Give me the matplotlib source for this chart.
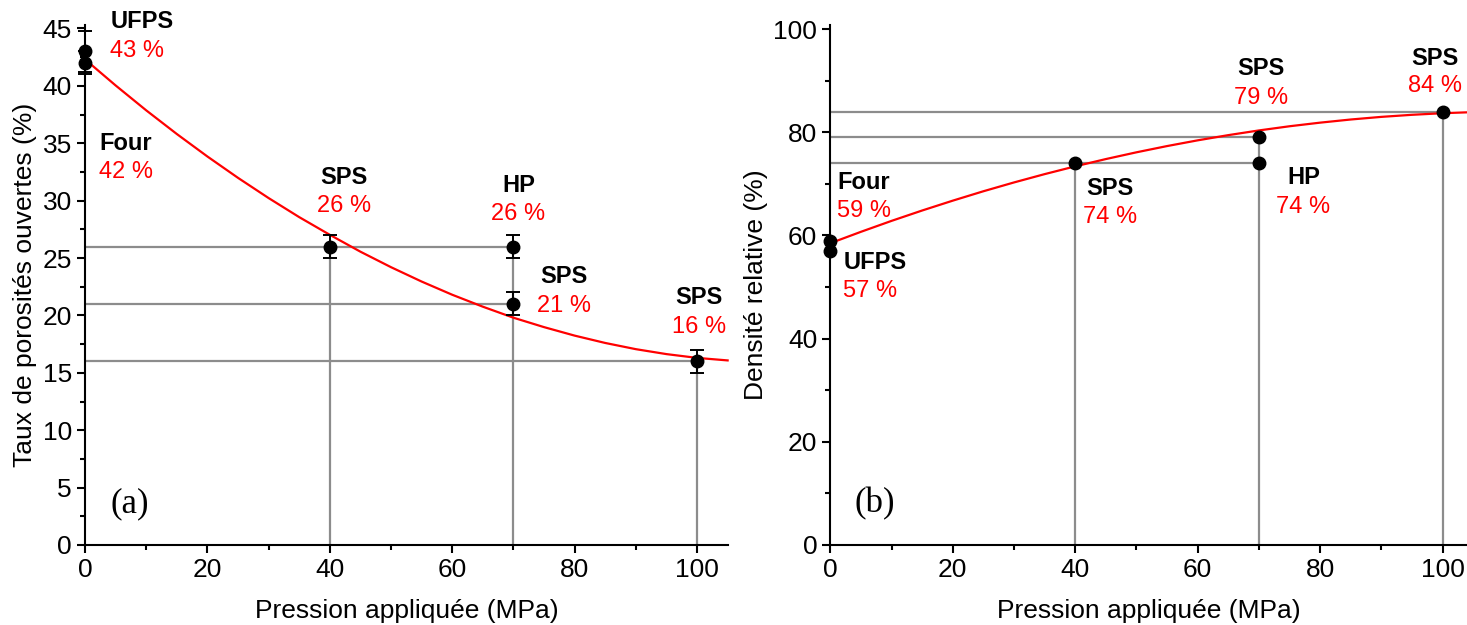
import matplotlib
matplotlib.use('Agg')
import matplotlib.pyplot as plt
from matplotlib.ticker import MultipleLocator

plt.rcParams['font.family'] = ['Liberation Sans', 'DejaVu Sans']

# (a) open porosity
pressA = [0, 0, 40, 70, 70, 100]
poroA = [43, 42, 26, 26, 21, 16]
errA = [1.8, 1.0, 1.0, 1.0, 1.0, 1.0]
# fitted curve
fitAx = [0, 5, 10, 15, 20, 25, 30, 35, 40, 45, 50, 55, 60, 65, 70, 75, 80, 85, 90, 95, 100, 105]
fitAy = [42.30, 40.03, 37.86, 35.80, 33.84, 31.98, 30.22, 28.56, 27.02, 25.55, 24.20, 22.95,
         21.80, 20.76, 19.80, 18.98, 18.24, 17.60, 17.06, 16.63, 16.30, 16.08]
# guide lines: (x, y) of the point they lead to
guideA_h = [(70, 26), (70, 21), (100, 16)]
guideA_v = [(40, 26), (70, 26), (100, 16)]
# labels: (x, y_name, y_value, name, value, ha)
labelsA = [
    (4.1, 45.6, 43.0, 'UFPS', '43 %', 'left'),
    (2.3, 35.0, 32.5, 'Four', '42 %', 'left'),
    (42.3, 32.0, 29.5, 'SPS', '26 %', 'center'),
    (70.8, 31.3, 28.8, 'HP', '26 %', 'center'),
    (78.3, 23.4, 20.8, 'SPS', '21 %', 'center'),
    (100.3, 21.6, 19.0, 'SPS', '16 %', 'center'),
]

# (b) relative density
pressB = [0, 0, 40, 70, 70, 100]
densB = [59, 57, 74, 79, 74, 84]
fitBx = [0, 5, 10, 15, 20, 25, 30, 35, 40, 45, 50, 55, 60, 65, 70, 75, 80, 85, 90, 95, 100, 104]
fitBy = [58.50, 60.71, 62.83, 64.84, 66.75, 68.57, 70.28, 71.89, 73.40, 74.81, 76.12, 77.33,
         78.44, 79.45, 80.36, 81.17, 81.87, 82.48, 82.99, 83.39, 83.70, 83.87]
guideB_h = [(100, 84), (70, 79), (70, 74)]
guideB_v = [(40, 74), (70, 79), (100, 84)]
labelsB = [
    (1.1, 70.3, 64.7, 'Four', '59 %', 'left'),
    (2.1, 54.8, 49.2, 'UFPS', '57 %', 'left'),
    (45.7, 69.2, 63.6, 'SPS', '74 %', 'center'),
    (70.3, 92.4, 86.7, 'SPS', '79 %', 'center'),
    (77.3, 71.3, 65.6, 'HP', '74 %', 'center'),
    (98.7, 94.4, 88.9, 'SPS', '84 %', 'center'),
]


def style_axes(ax):
    for s in ['top', 'right']:
        ax.spines[s].set_visible(False)
    for s in ['left', 'bottom']:
        ax.spines[s].set_linewidth(1.5)
    ax.tick_params(which='major', direction='out', length=6, width=1.5, labelsize=19)
    ax.tick_params(which='minor', direction='out', length=3.5, width=1.5)
    ax.xaxis.set_major_locator(MultipleLocator(20))
    ax.xaxis.set_minor_locator(MultipleLocator(10))
    for lab in ax.get_xticklabels() + ax.get_yticklabels():
        lab.set_family(['Liberation Sans Narrow', 'Liberation Sans'])


def draw_panel(ax, px, py, fx, fy, gh, gv, labels, tag, err=None):
    for x, y in gh:
        ax.plot([0, x], [y, y], color='#8c8c8c', lw=1.6, zorder=1)
    for x, y in gv:
        ax.plot([x, x], [0, y], color='#8c8c8c', lw=1.6, zorder=1)
    ax.plot(fx, fy, color='red', lw=1.6, zorder=3, clip_on=False)
    if err is not None:
        ax.errorbar(px, py, yerr=err, fmt='none', ecolor='black', elinewidth=1.4,
                    capsize=5, capthick=1.4, zorder=4, clip_on=False)
    ax.plot(px, py, 'o', color='black', ms=9, zorder=5, clip_on=False)
    for x, yn, yv, name, val, ha in labels:
        ax.text(x, yn, name, ha=ha, va='center', fontsize=17, fontweight='bold', color='black')
        ax.text(x, yv, val, ha=ha, va='center', fontsize=17, color='red')
    ax.text(0.07, 0.08, tag, transform=ax.transAxes, ha='center', va='center',
            fontsize=25, family='Liberation Serif')
    ax.set_xlabel('Pression appliquée (MPa)', fontsize=19, labelpad=12)


fig = plt.figure(figsize=(14.67, 6.25), dpi=100)
axA = fig.add_axes([0.058, 0.128, 0.438, 0.832])
axB = fig.add_axes([0.566, 0.128, 0.434, 0.832])

draw_panel(axA, pressA, poroA, fitAx, fitAy, guideA_h, guideA_v, labelsA, '(a)', err=errA)
axA.set_xlim(0, 105)
axA.set_ylim(0, 45.3)
axA.yaxis.set_major_locator(MultipleLocator(5))
axA.yaxis.set_minor_locator(MultipleLocator(2.5))
style_axes(axA)
axA.set_ylabel('Taux de porosités ouvertes (%)', fontsize=19, labelpad=4)

draw_panel(axB, pressB, densB, fitBx, fitBy, guideB_h, guideB_v, labelsB, '(b)')
axB.set_xlim(0, 104)
axB.set_ylim(0, 100.8)
axB.yaxis.set_major_locator(MultipleLocator(20))
axB.yaxis.set_minor_locator(MultipleLocator(10))
style_axes(axB)
axB.set_ylabel('Densité relative (%)', fontsize=19, labelpad=4)

fig.savefig('out.png', dpi=100)
